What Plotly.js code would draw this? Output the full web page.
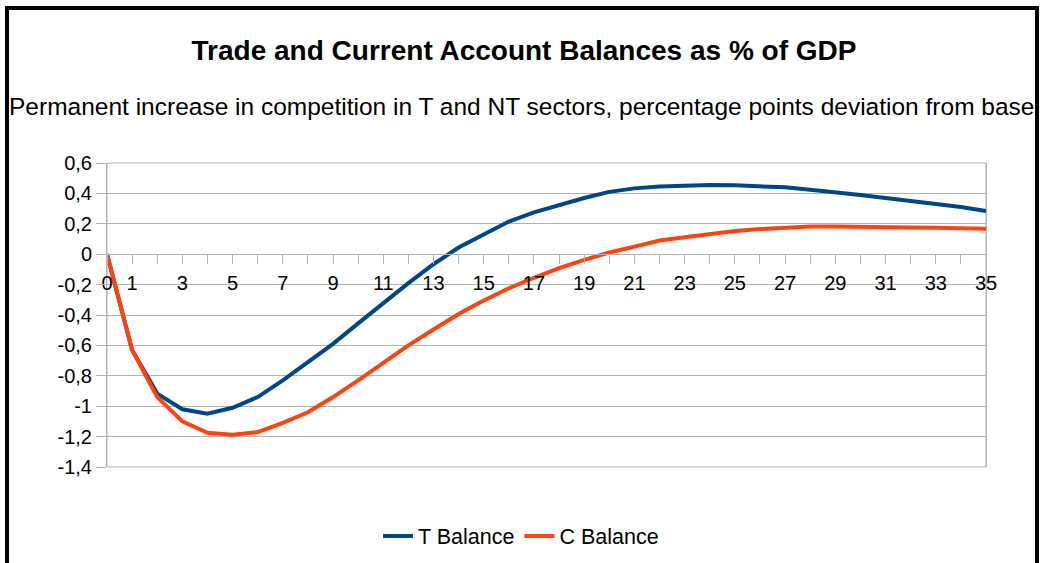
<!DOCTYPE html>
<html>
<head>
<meta charset="utf-8">
<script src="https://cdn.plot.ly/plotly-3.0.1.min.js"></script>
<style>
  html, body { margin: 0; padding: 0; background: #ffffff; }
  #frame {
    position: absolute; left: 5px; top: 6px;
    width: 1026px; height: 600px;
    border: 4px solid #000000; border-bottom: none;
    overflow: hidden; background: #ffffff;
  }
  #chart { position: absolute; left: -9px; top: -10px; width: 1042px; height: 563px; }
</style>
</head>
<body>
<div id="frame"><div id="chart"></div></div>
<script>
// Periods (x axis)
const periods = [0,1,2,3,4,5,6,7,8,9,10,11,12,13,14,15,16,17,18,19,20,21,22,23,24,25,26,27,28,29,30,31,32,33,34,35];
// T Balance (percentage points deviation from base)
const tBalance = [0, -0.63, -0.917, -1.02, -1.05, -1.01, -0.94, -0.83, -0.71, -0.59, -0.455, -0.32, -0.19, -0.066, 0.044, 0.13, 0.215, 0.275, 0.325, 0.37, 0.41, 0.433, 0.446, 0.453, 0.455, 0.453, 0.448, 0.44, 0.424, 0.41, 0.39, 0.37, 0.347, 0.33, 0.31, 0.284];
// C Balance
const cBalance = [0, -0.63, -0.94, -1.10, -1.175, -1.187, -1.17, -1.11, -1.04, -0.94, -0.83, -0.714, -0.60, -0.495, -0.393, -0.305, -0.224, -0.155, -0.092, -0.037, 0.011, 0.05, 0.09, 0.112, 0.132, 0.152, 0.165, 0.176, 0.182, 0.182, 0.182, 0.178, 0.176, 0.174, 0.169, 0.167];
// Tick labels
const xTickVals = periods;
const xTickText = ['0','1','','3','','5','','7','','9','','11','','13','','15','','17','','19','','21','','23','','25','','27','','29','','31','','33','','35'];
const yTickVals = [0.6, 0.4, 0.2, 0, -0.2, -0.4, -0.6, -0.8, -1.0, -1.2, -1.4];
const yTickText = ['0,6','0,4','0,2','0','-0,2','-0,4','-0,6','-0,8','-1','-1,2','-1,4'];

const titleText = 'Trade and Current Account Balances as % of GDP';
const subtitleText = 'Permanent increase in competition in T and NT sectors, percentage points deviation from base';

const FONT = '"Liberation Sans", Arial, sans-serif';
const GRID = '#b3b3b3';

const traces = [
  { x: periods, y: tBalance, name: 'T Balance', type: 'scatter', mode: 'lines',
    line: { color: '#004586', width: 4 } },
  { x: periods, y: cBalance, name: 'C Balance', type: 'scatter', mode: 'lines',
    line: { color: '#ff420e', width: 4 } }
];

const layout = {
  width: 1042, height: 563,
  margin: { l: 107, r: 56, t: 163, b: 96, pad: 0, autoexpand: false },
  paper_bgcolor: '#ffffff', plot_bgcolor: '#ffffff',
  font: { family: FONT, color: '#000000', size: 20 },
  separators: ',.',
  title: {
    text: '<b>' + titleText + '</b>',
    font: { family: FONT, size: 28, color: '#000000' },
    x: 524 / 1042, xref: 'container', xanchor: 'center',
    y: 1 - 50 / 563, yref: 'container', yanchor: 'middle'
  },
  annotations: [{
    text: subtitleText, showarrow: false,
    xref: 'paper', yref: 'paper',
    x: (521 - 107) / 879, xanchor: 'center',
    y: 1 + (163 - 106) / 304, yanchor: 'middle',
    font: { family: FONT, size: 24.5, color: '#000000' }
  }],
  shapes: [{
    type: 'rect', xref: 'paper', yref: 'paper', x0: 0, x1: 1, y0: 0, y1: 1,
    line: { color: GRID, width: 1 }, fillcolor: 'rgba(0,0,0,0)', layer: 'below'
  }],
  xaxis: {
    range: [0, 35], anchor: 'free', position: 0.7,
    tickmode: 'array', tickvals: xTickVals, ticktext: xTickText,
    ticks: 'outside', ticklen: 9, tickcolor: GRID, tickwidth: 1,
    ticklabelstandoff: 2,
    showline: true, linecolor: GRID, linewidth: 1,
    showgrid: false, zeroline: false,
    tickfont: { family: FONT, size: 20, color: '#000000' }
  },
  yaxis: {
    range: [-1.4, 0.6],
    tickmode: 'array', tickvals: yTickVals, ticktext: yTickText,
    ticks: 'outside', ticklen: 10, tickcolor: GRID, tickwidth: 1,
    showline: true, mirror: true, linecolor: GRID, linewidth: 1,
    showgrid: true, gridcolor: GRID, gridwidth: 1, zeroline: false,
    tickfont: { family: FONT, size: 20, color: '#000000' }
  },
  showlegend: true,
  legend: {
    orientation: 'h', x: (521 - 107) / 879, xanchor: 'center',
    y: (467 - 536) / 304, yanchor: 'middle',
    font: { family: FONT, size: 21.5, color: '#000000' },
    bgcolor: 'rgba(0,0,0,0)', itemwidth: 30
  }
};

Plotly.newPlot('chart', traces, layout, { displayModeBar: false, staticPlot: true });
</script>
</body>
</html>
